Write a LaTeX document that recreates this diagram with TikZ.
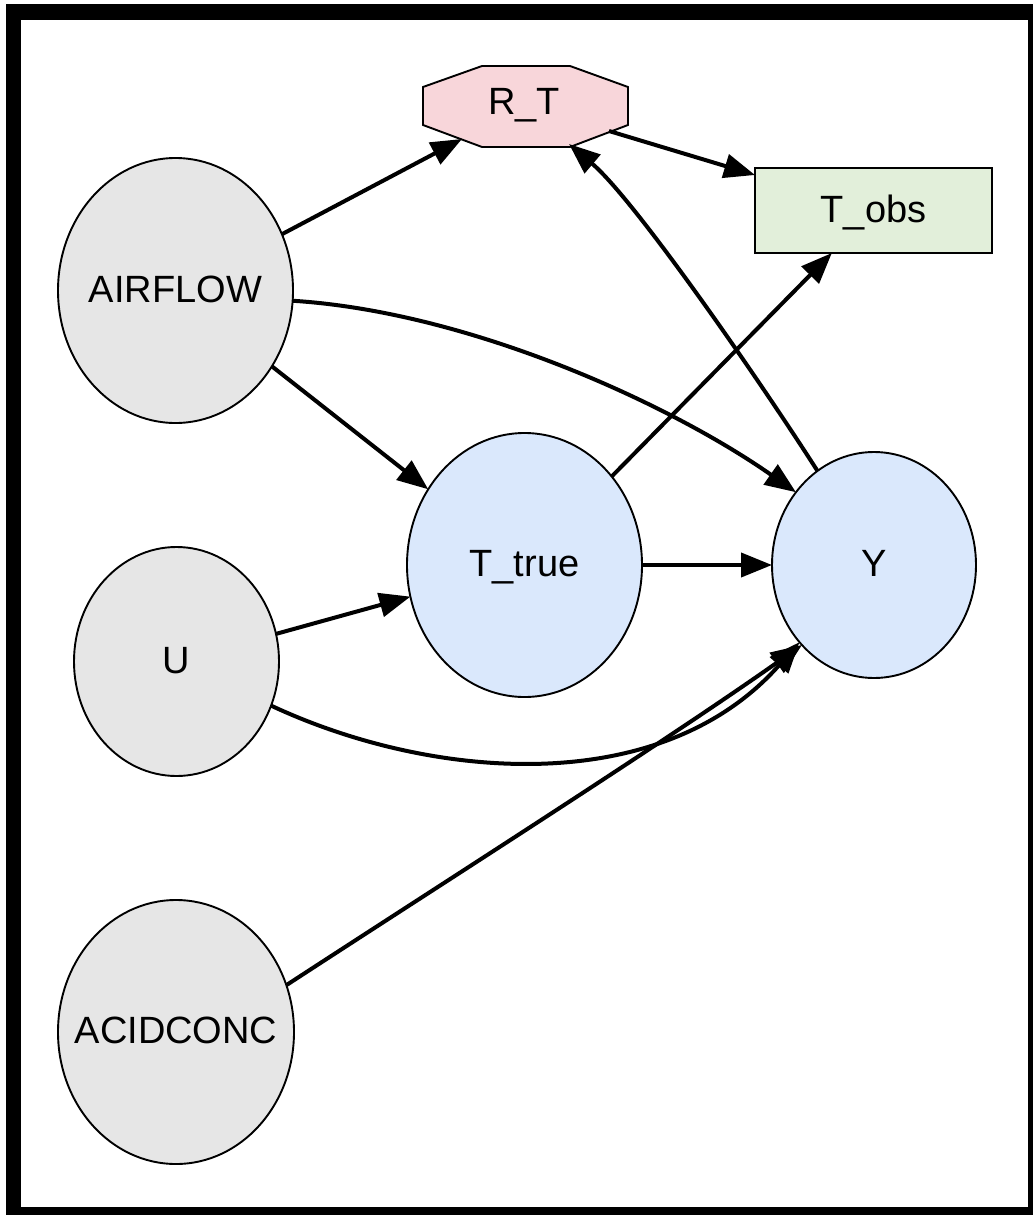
\documentclass[tikz,border=0pt]{standalone}
\usepackage{fontspec}
\setmainfont{Liberation Sans}
\usetikzlibrary{arrows.meta,shapes.geometric}
\definecolor{greyfill}{RGB}{230,230,230}
\definecolor{bluefill}{RGB}{218,232,252}
\definecolor{pinkfill}{RGB}{248,214,218}
\definecolor{greenfill}{RGB}{226,239,218}
\newcommand{\nlabel}[1]{\makebox[0pt][c]{#1}}
\tikzset{
  base/.style={draw=black, line width=1.9pt, outer sep=0pt, inner sep=0pt,
    font=\fontsize{38}{45}\selectfont, text height=28pt, text depth=5pt},
  greynode/.style={base, ellipse, fill=greyfill},
  bluenode/.style={base, ellipse, fill=bluefill},
  boxnode/.style={base, rectangle, fill=greenfill},
  labnode/.style={base, draw=none, fill=none},
  edge/.style={draw=black, line width=4pt, -{Triangle[length=31pt,width=24pt]}}
}
\begin{document}
\begin{tikzpicture}[x=1pt,y=-1pt]
\useasboundingbox (0,0) rectangle (1033,1215);
\fill[white] (0,0) rectangle (1033,1215);
\fill[black] (6,4) rectangle (1033,1215);
\fill[white] (21,20) rectangle (1028,1207);

% nodes
\node[greynode, minimum width=235pt, minimum height=265pt] (AIR) at (175.5,290.5) {\nlabel{AIRFLOW}};
\node[greynode, minimum width=205pt, minimum height=229pt] (U) at (176.5,661.5) {\nlabel{U}};
\node[greynode, minimum width=236pt, minimum height=264pt] (ACID) at (176,1032) {\nlabel{ACIDCONC}};
\node[bluenode, minimum width=235pt, minimum height=264pt] (TT) at (524.5,565) {\nlabel{T\_true}};
\node[bluenode, minimum width=204pt, minimum height=226pt] (Y) at (874,565) {\nlabel{Y}};
\node[boxnode, minimum width=237pt, minimum height=85pt] (TO) at (873.5,210.5) {T\_obs};

% octagon R_T
\filldraw[fill=pinkfill, draw=black, line width=1.9pt]
  (482,66) -- (570,66) -- (628,87) -- (628,125) -- (570,147) -- (482,147) -- (423,125) -- (423,87) -- cycle;
\node[labnode] (RT) at (524,103) {R\_T};
\coordinate (rtA) at (462,139);
\coordinate (rtB) at (569,144);
\coordinate (rtC) at (609,131);

% edges
\draw[edge] (AIR) -- (rtA);
\draw[edge] (AIR.-5) .. controls (470,312) and (670,404) .. (Y.137);
\draw[edge] (AIR) -- (TT);
\draw[edge] (rtC) -- (TO);
\draw[edge] (Y.121) .. controls (760,381) and (635,200) .. (rtB);
\draw[edge] (TT) -- (TO);
\draw[edge] (TT) -- (Y);
\draw[edge] (U) -- (TT);
\draw[edge] (U.-25) .. controls (430,780) and (660,800) .. (Y.226);
\draw[edge] (ACID.23) .. controls (440,885) and (660,745) .. (Y.228);
\end{tikzpicture}
\end{document}
